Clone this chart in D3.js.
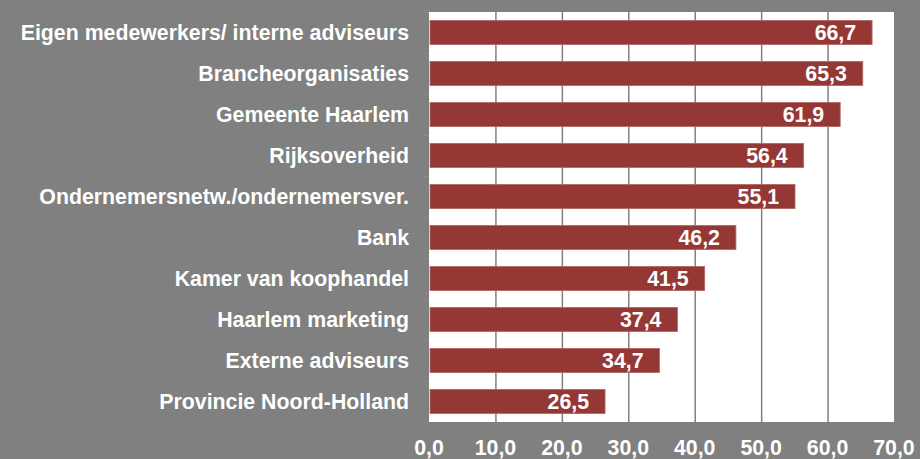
<!DOCTYPE html>
<html><head><meta charset="utf-8">
<script src="https://cdn.jsdelivr.net/npm/d3@7"></script>
<style>
html,body{margin:0;padding:0;background:#808080;}
svg{display:block;font-family:"Liberation Sans",Arial,sans-serif;font-weight:bold;}
</style></head>
<body>
<svg id="chart" width="920" height="459"></svg>
<script>
const categories = ["Eigen medewerkers/ interne adviseurs","Brancheorganisaties","Gemeente Haarlem","Rijksoverheid","Ondernemersnetw./ondernemersver.","Bank","Kamer van koophandel","Haarlem marketing","Externe adviseurs","Provincie Noord-Holland"];
const values = [66.7,65.3,61.9,56.4,55.1,46.2,41.5,37.4,34.7,26.5];
const xTicks = [0,10,20,30,40,50,60,70];

const svg = d3.select("#chart");
const L = 429, R = 894, T = 12, B = 422;
const FS = 21.3;
const fmt = v => v.toFixed(1).replace(".", ",");

const x = d3.scaleLinear().domain([0,70]).range([L,R]);
const y = d3.scaleBand().domain(categories).range([T,B]).paddingInner(0.41).paddingOuter(0.205);

svg.append("rect").attr("width",920).attr("height",459).attr("fill","#808080");
svg.append("rect").attr("x",L).attr("y",T).attr("width",R-L).attr("height",B-T).attr("fill","#ffffff");

// gridlines
svg.append("g").selectAll("line").data(xTicks.slice(1,-1)).join("line")
  .attr("x1",d=>x(d)+0.5).attr("x2",d=>x(d)+0.5).attr("y1",T).attr("y2",B)
  .attr("stroke","#808080").attr("stroke-width",1.5);

// y-axis ticks at band boundaries
const bounds = categories.map((c,i)=>T + i*y.step()).concat([B]);
svg.append("g").selectAll("line").data(bounds).join("line")
  .attr("x1",L-7).attr("x2",L).attr("y1",d=>d+0.5).attr("y2",d=>d+0.5)
  .attr("stroke","#8c8c8c").attr("stroke-width",1);

// bars
svg.append("g").selectAll("rect").data(values).join("rect")
  .attr("x",x(0)+1).attr("y",(d,i)=>y(categories[i]))
  .attr("width",d=>x(d)-x(0)-1).attr("height",y.bandwidth())
  .attr("fill","#953735").attr("stroke","#b06a68").attr("stroke-width",0.8);

// value labels
svg.append("g").selectAll("text").data(values).join("text")
  .attr("x",d=>x(d)-16).attr("y",(d,i)=>y(categories[i])+y.bandwidth()/2+7.5)
  .attr("text-anchor","end").attr("fill","#ffffff").attr("font-size",FS)
  .text(d=>fmt(d));

// category labels
svg.append("g").selectAll("text").data(categories).join("text")
  .attr("x",409).attr("y",d=>y(d)+y.bandwidth()/2+7.5)
  .attr("text-anchor","end").attr("fill","#ffffff").attr("font-size",FS)
  .text(d=>d);

// x-axis tick labels
svg.append("g").selectAll("text").data(xTicks).join("text")
  .attr("x",d=>x(d)).attr("y",455)
  .attr("text-anchor","middle").attr("fill","#ffffff").attr("font-size",FS)
  .text(d=>fmt(d));
</script>
</body></html>
